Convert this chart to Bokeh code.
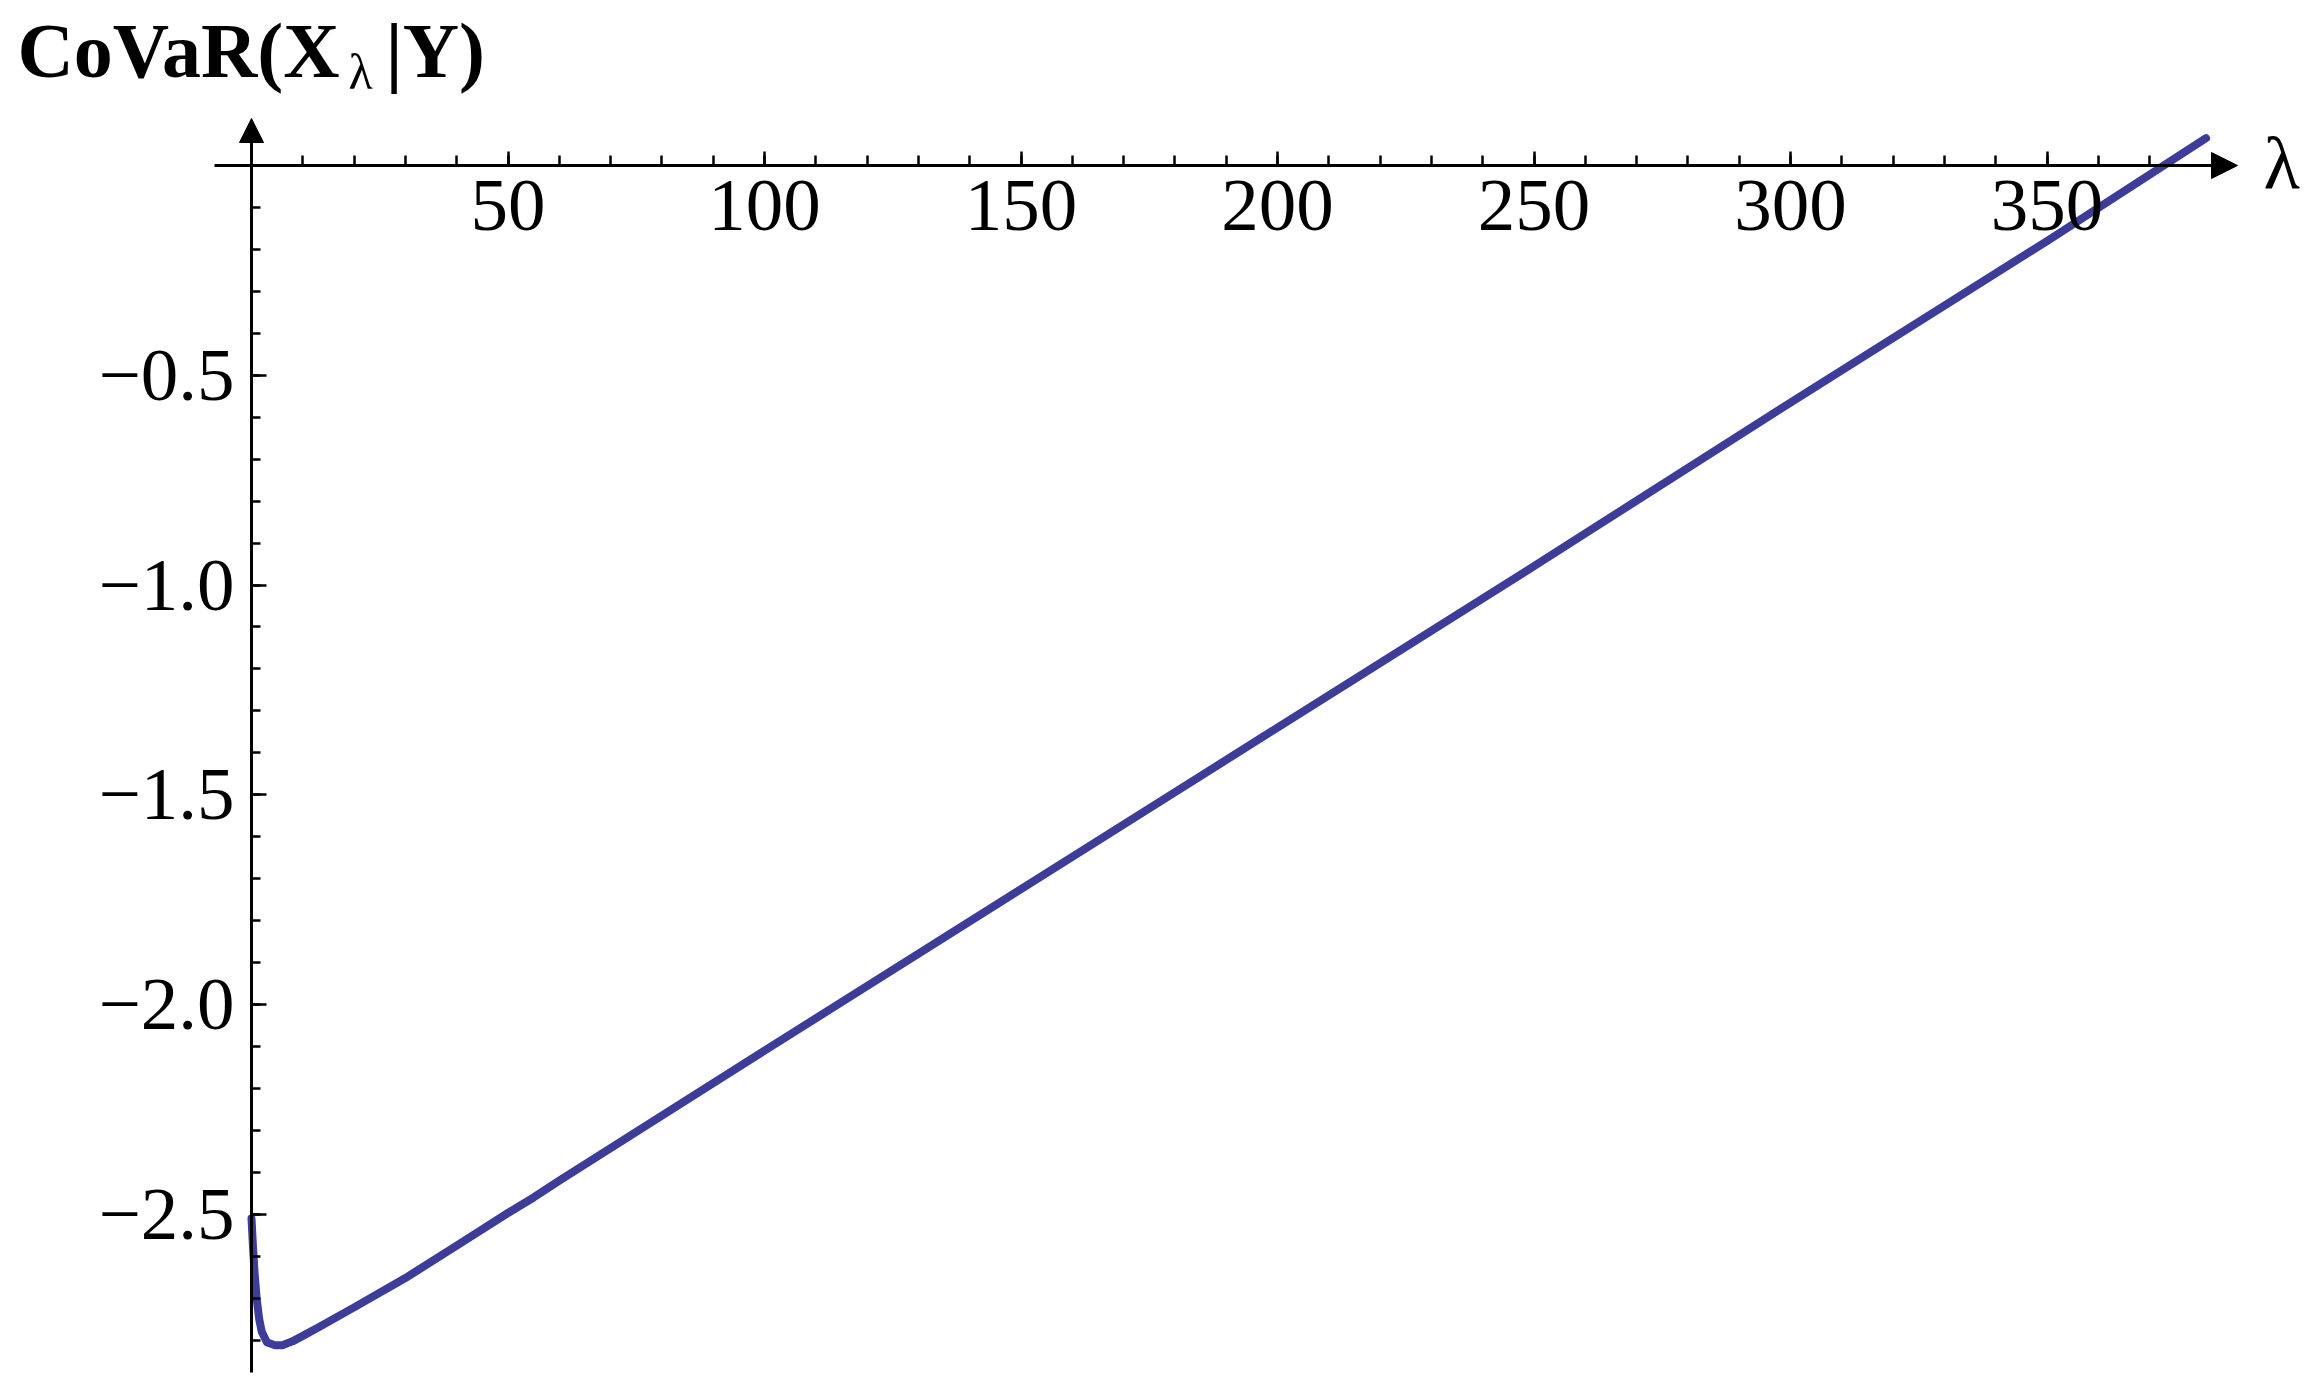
from bokeh.plotting import figure
from bokeh.models import LinearAxis, FixedTicker, Arrow, NormalHead, Label, Range1d
from bokeh.embed import file_html
from bokeh.resources import INLINE

# ---- data ----
lam = [0, 0.3, 0.6, 1.0, 1.5, 2.0, 3.0, 4.5, 6.0, 8.0, 10, 13, 20, 30, 40, 50, 55,
       60, 80, 100, 150, 200, 250, 300, 350, 381]
covar = [-2.51, -2.58, -2.64, -2.70, -2.75, -2.78, -2.805, -2.812, -2.812, -2.803,
         -2.79, -2.77, -2.722, -2.652, -2.575, -2.497, -2.46, -2.42, -2.265, -2.11,
         -1.725, -1.34, -0.955, -0.565, -0.18, 0.065]

x_major = [50, 100, 150, 200, 250, 300, 350]
x_labels = ["50", "100", "150", "200", "250", "300", "350"]
x_minor = [10 * k for k in range(1, 38)]
y_major = [-2.5, -2.0, -1.5, -1.0, -0.5]
y_labels = ["\u22122.5", "\u22122.0", "\u22121.5", "\u22121.0", "\u22120.5"]
y_minor = [round(-0.1 * k, 1) for k in range(1, 29)]

title_main = "CoVaR(X"
title_sub = "\u03bb"
title_end = "|Y)"
x_name = "\u03bb"

# ---- layout (pixels, page coordinates; the Bokeh page has no body margin) ----
W, H = 2307, 1379
OX, OY = 251.0, 165.0          # pixel position of data origin
SX, SY = 5.13, 419.5           # pixels per data unit


def px2x(px):
    return (px - OX) / SX


def py2y(py):
    return (OY - py) / SY


p = figure(width=W, height=H, output_backend="svg", toolbar_location=None,
           x_axis_location=None, y_axis_location=None,
           x_range=Range1d(px2x(0), px2x(W)), y_range=Range1d(py2y(H), py2y(0)),
           min_border=0, min_border_left=0, min_border_right=0,
           min_border_top=0, min_border_bottom=0)
p.outline_line_color = None
p.grid.visible = False
p.background_fill_color = "white"
p.border_fill_color = "white"

serif = "Liberation Serif"

xaxis = LinearAxis(fixed_location=0,
                   ticker=FixedTicker(ticks=x_major, minor_ticks=x_minor),
                   major_label_overrides=dict(zip(x_major, x_labels)),
                   bounds=(px2x(214), px2x(2225)),
                   axis_line_width=3, axis_line_color="black",
                   major_tick_in=14, major_tick_out=0,
                   minor_tick_in=10, minor_tick_out=0,
                   major_tick_line_width=2.5, minor_tick_line_width=2.5,
                   major_label_text_font=serif, major_label_text_font_size="75px",
                   major_label_text_color="black", major_label_standoff=15)
p.add_layout(xaxis, "below")

yaxis = LinearAxis(fixed_location=0,
                   ticker=FixedTicker(ticks=y_major, minor_ticks=y_minor),
                   major_label_overrides=dict(zip(y_major, y_labels)),
                   bounds=(py2y(1372), py2y(135)),
                   axis_line_width=3, axis_line_color="black",
                   major_tick_in=15, major_tick_out=0,
                   minor_tick_in=9, minor_tick_out=0,
                   major_tick_line_width=2.5, minor_tick_line_width=2.5,
                   major_label_text_font=serif, major_label_text_font_size="75px",
                   major_label_text_color="black", major_label_standoff=17)
p.add_layout(yaxis, "left")

# axis arrowheads
p.add_layout(Arrow(end=NormalHead(size=26, fill_color="black", line_color="black", line_width=1),
                   x_start=px2x(2200), y_start=0, x_end=px2x(2237), y_end=0,
                   line_width=3, line_color="black"))
p.add_layout(Arrow(end=NormalHead(size=24, fill_color="black", line_color="black", line_width=1),
                   x_start=0, y_start=py2y(150), x_end=0, y_end=py2y(118),
                   line_width=3, line_color="black"))

# curve
p.line(lam, covar, line_color="#3D3D99", line_width=8, line_join="round", line_cap="round")

# y-axis title (top-left), with subscript
p.add_layout(Label(x=px2x(17), y=py2y(50), text=title_main, text_font=serif,
                   text_font_style="bold", text_font_size="78px", text_color="black",
                   text_baseline="alphabetic", text_align="left"))
p.add_layout(Label(x=px2x(348), y=py2y(71), text=title_sub, text_font=serif,
                   text_font_size="50px", text_color="black",
                   text_baseline="alphabetic", text_align="left"))
p.add_layout(Label(x=px2x(385), y=py2y(50), text=title_end, text_font=serif,
                   text_font_style="bold", text_font_size="78px", text_color="black",
                   text_baseline="alphabetic", text_align="left"))

# x-axis name at arrow end
p.add_layout(Label(x=px2x(2263), y=py2y(162), text=x_name, text_font=serif,
                   text_font_size="75px", text_color="black",
                   text_baseline="alphabetic", text_align="left"))

open("out.html", "w").write(file_html(p, INLINE))
